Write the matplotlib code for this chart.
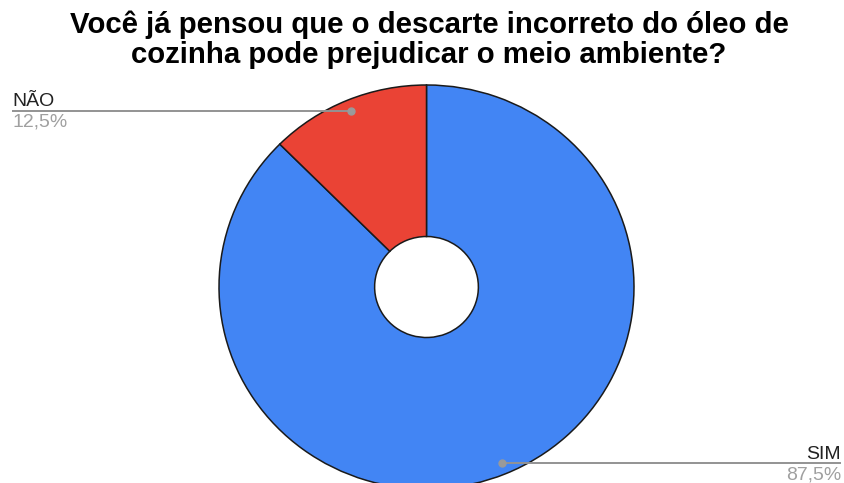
import numpy as np
import matplotlib
matplotlib.use("Agg")
import matplotlib.pyplot as plt
from matplotlib.transforms import offset_copy

# Survey answers
labels = ["SIM", "NÃO"]
values = [87.5, 12.5]
pct_labels = ["87,5%", "12,5%"]
colors = ["#4285F4", "#EA4335"]
title_lines = ["Você já pensou que o descarte incorreto do óleo de",
               "cozinha pode prejudicar o meio ambiente?"]

W, H = 845, 483
plt.rcParams["font.family"] = ["Liberation Sans", "DejaVu Sans"]
fig = plt.figure(figsize=(W / 100, H / 100), dpi=100)
fig.patch.set_facecolor("white")
ax = fig.add_axes([0, 0, 1, 1])

# pie centre and radii in pixels (slightly squashed vertically)
cx, cy, rx, ry = 426.5, 287.0, 207.5, 202.0

wedges, _ = ax.pie(
    values, colors=colors, startangle=90, counterclock=False, radius=1.0,
    wedgeprops=dict(width=0.75, edgecolor="#1a1a1a", linewidth=1.1),
    frame=True,
)
ax.set_xlim(-cx / rx, (W - cx) / rx)
ax.set_ylim((cy - H) / ry, cy / ry)
ax.set_aspect("auto")
ax.axis("off")

# leader lines with labels
to_data = ax.transData.inverted()
t_up = offset_copy(ax.transData, fig=fig, y=4.5, units="dots")
t_dn = offset_copy(ax.transData, fig=fig, y=-3, units="dots")
for w, lab, pct in zip(wedges, labels, pct_labels):
    theta = np.deg2rad((w.theta1 + w.theta2) / 2)
    r = 0.945
    x0, y0 = r * np.cos(theta), r * np.sin(theta)
    if x0 < 0:
        xe = to_data.transform((12, 0))[0]
        ha = "left"
    else:
        xe = to_data.transform((W - 4, 0))[0]
        ha = "right"
    ax.plot([x0, xe], [y0, y0], color="#939393", lw=1.4, solid_capstyle="butt", zorder=5)
    ax.plot([x0], [y0], "o", color="#9a9a9a", ms=5, zorder=6)
    ax.text(xe, y0, lab, ha=ha, va="baseline", fontsize=14, color="#222222", transform=t_up)
    ax.text(xe, y0, pct, ha=ha, va="top", fontsize=14, color="#a0a0a0", transform=t_dn)

# two-line bold title
for i, line in enumerate(title_lines):
    fig.text(429 / W, 1 - (33 + 30 * i) / H, line, ha="center", va="baseline",
             fontsize=21.2, fontweight="bold", color="#000000")

fig.savefig("out.png", dpi=100, facecolor="white")
